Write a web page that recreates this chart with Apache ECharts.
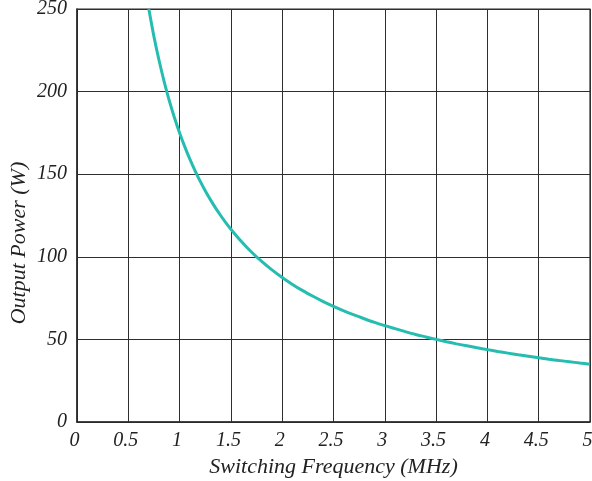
<!DOCTYPE html>
<html>
<head>
<meta charset="utf-8">
<script src="https://cdn.jsdelivr.net/npm/echarts@6/dist/echarts.min.js"></script>
<style>
  html, body { margin: 0; padding: 0; background: #fff; }
  #chart { width: 592px; height: 481px; }
</style>
</head>
<body>
<div id="chart"></div>
<script>
// Switching frequency (MHz) and the corresponding output power (W)
const frequency = [0.70, 0.75, 0.80, 0.85, 0.90, 0.95, 1.00, 1.05, 1.10, 1.15,
                   1.20, 1.25, 1.30, 1.35, 1.40, 1.45, 1.50,
                   1.6, 1.7, 1.8, 1.9, 2.0, 2.1, 2.2, 2.3, 2.4, 2.5,
                   2.6, 2.7, 2.8, 2.9, 3.0, 3.1, 3.2, 3.3, 3.4, 3.5,
                   3.6, 3.7, 3.8, 3.9, 4.0, 4.1, 4.2, 4.3, 4.4, 4.5,
                   4.6, 4.7, 4.8, 4.9, 5.0];
const outputPower = [250, 233.3, 218.8, 205.9, 194.4, 184.2, 175.0, 166.7, 159.1, 152.2,
                     145.8, 140.0, 134.6, 129.6, 125.0, 120.7, 116.7,
                     109.4, 102.9, 97.2, 92.1, 87.5, 83.3, 79.5, 76.1, 72.9, 70.0,
                     67.3, 64.8, 62.5, 60.3, 58.3, 56.5, 54.7, 53.0, 51.5, 50.0,
                     48.6, 47.3, 46.1, 44.9, 43.8, 42.7, 41.7, 40.7, 39.8, 38.9,
                     38.0, 37.2, 36.5, 35.7, 35.0];

const xTicks = [0, 0.5, 1, 1.5, 2, 2.5, 3, 3.5, 4, 4.5, 5];
const yTicks = [0, 50, 100, 150, 200, 250];

const xLabel = 'Switching Frequency (MHz)';
const yLabel = 'Output Power (W)';

const tickFont = {
  fontFamily: '"Liberation Serif", serif',
  fontStyle: 'italic',
  fontSize: 20,
  color: '#222'
};
const nameFont = {
  fontFamily: '"Liberation Serif", serif',
  fontStyle: 'italic',
  fontSize: 22,
  color: '#222'
};

const chart = echarts.init(document.getElementById('chart'), null, { renderer: 'canvas' });

chart.setOption({
  animation: false,
  backgroundColor: '#fff',
  grid: {
    left: 77, right: 2, top: 9, bottom: 59,
    outerBoundsMode: 'none',
    containLabel: false,
    show: true, borderColor: '#2a2a2a', borderWidth: 1.2, backgroundColor: 'transparent'
  },
  xAxis: {
    type: 'value',
    min: xTicks[0],
    max: xTicks[xTicks.length - 1],
    interval: xTicks[1] - xTicks[0],
    name: xLabel,
    nameLocation: 'middle',
    nameGap: 29,
    nameTextStyle: nameFont,
    axisLine: { show: true, lineStyle: { color: '#2a2a2a', width: 1.5 } },
    axisTick: { show: false },
    splitLine: { show: true, lineStyle: { color: '#2e2e2e', width: 1 } },
    axisLabel: Object.assign({ margin: 9, padding: [0, 5, 0, 0] }, tickFont)
  },
  yAxis: {
    type: 'value',
    min: yTicks[0],
    max: yTicks[yTicks.length - 1],
    interval: yTicks[1] - yTicks[0],
    axisLine: { show: true, lineStyle: { color: '#2a2a2a', width: 1.5 } },
    axisTick: { show: false },
    splitLine: { show: true, lineStyle: { color: '#2e2e2e', width: 1 } },
    axisLabel: Object.assign({ margin: 10, padding: [4, 0, 0, 0] }, tickFont)
  },
  graphic: [{
    type: 'text',
    x: 19,
    y: 243,
    rotation: Math.PI / 2,
    style: {
      text: yLabel,
      x: 0, y: 0,
      align: 'center',
      verticalAlign: 'middle',
      fill: nameFont.color,
      font: 'italic 22px "Liberation Serif", serif'
    }
  }],
  series: [{
    type: 'line',
    data: frequency.map((f, i) => [f, outputPower[i]]),
    smooth: 0.3,
    showSymbol: false,
    clip: true,
    lineStyle: { color: '#24bdb0', width: 3 }
  }]
});
</script>
</body>
</html>
